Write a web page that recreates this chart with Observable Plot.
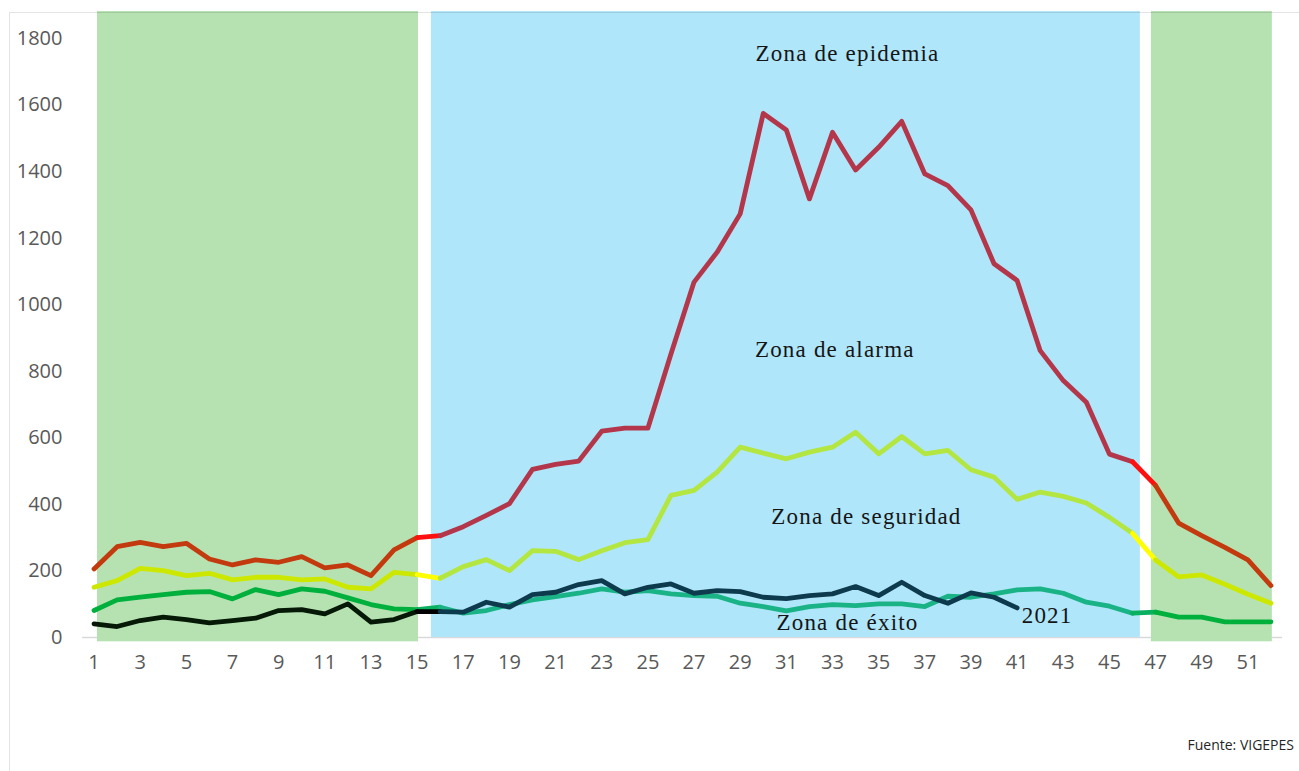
<!DOCTYPE html>
<html><head><meta charset="utf-8">
<script src="https://cdn.jsdelivr.net/npm/d3@7"></script>
<script src="https://cdn.jsdelivr.net/npm/@observablehq/plot@0.6"></script>
<style>
body{margin:0;background:#fff;}
#wrap{position:relative;width:1299px;height:771px;overflow:hidden;}
#chart{position:absolute;left:0;top:0;}
#frame{position:absolute;left:9px;top:12px;width:1400px;height:900px;border:1.5px solid rgba(0,0,0,0.11);box-sizing:border-box;pointer-events:none;}
#src{position:absolute;right:5px;top:735px;font-family:"Open Sans";font-size:14px;color:#262626;}
</style></head>
<body><div id="wrap"><div id="chart"></div><div id="frame"></div><div id="src">Fuente: VIGEPES</div></div>
<script>
const weeks = [1,2,3,4,5,6,7,8,9,10,11,12,13,14,15,16,17,18,19,20,21,22,23,24,25,26,27,28,29,30,31,32,33,34,35,36,37,38,39,40,41,42,43,44,45,46,47,48,49,50,51,52];
const epidemia = [206,273,286,273,283,236,218,233,226,243,209,218,186,263,300,306,333,367,402,505,520,530,620,629,629,852,1068,1158,1273,1575,1525,1318,1518,1405,1473,1551,1393,1358,1285,1123,1073,862,772,707,551,528,457,344,306,271,233,156];
const alarma = [151,171,208,201,186,193,173,181,181,173,176,151,146,196,189,178,213,234,201,261,259,234,261,285,294,427,442,497,572,554,537,557,572,617,552,604,552,562,504,482,415,437,424,404,361,313,233,182,188,160,130,103];
const seguridad = [81,113,121,129,136,138,116,144,129,146,139,119,99,86,84,91,73,81,99,113,123,133,146,136,141,131,126,124,103,93,80,93,99,96,101,101,93,124,121,131,143,146,133,106,94,73,76,61,61,47,47,47];
const y2021 = [41,33,51,61,54,44,51,58,81,84,71,101,46,54,78,78,76,106,91,129,136,159,171,131,151,161,133,141,138,121,117,126,131,153,126,166,126,103,134,121,89];

const xTicks = [1,3,5,7,9,11,13,15,17,19,21,23,25,27,29,31,33,35,37,39,41,43,45,47,49,51];
const yTicks = [0,200,400,600,800,1000,1200,1400,1600,1800];

// background zones (in week units / value units)
const bandStart = [1.15, 15.62, 46.82];
const bandEnd = [15.06, 46.34, 52.06];
const bandBottom = [-13, 0, -13];
const bandTop = [1881, 1881, 1881];
const bandColor = ["#b6e2b2", "#b0e6f9", "#b6e2b2"];

// annotations
const labels = ["Zona de epidemia", "Zona de alarma", "Zona de seguridad", "Zona de éxito", "2021"];
const labelWeek = [33.65, 33.1, 34.47, 33.65, 42.3];
const labelValue = [1755, 865, 364, 45, 66];

// colours per series: [green zone, boundary, blue zone]
const colEpidemia = ["#c23a0e", "#ff1010", "#b3364a"];
const colAlarma = ["#cde800", "#ffff00", "#b4e641"];
const colSeguridad = ["#00b03c", "#08b060", "#19b386"];
const col2021 = ["#061806", "#000000", "#0e3a4e"];

const parts = [[1,15,0],[15,16,1],[16,46,2],[46,47,1],[47,52,0]];
function segs(name, vals, cols) {
  const rows = [];
  parts.forEach(([a,b,c], pi) => {
    const g = [];
    for (let w = a; w <= b && w <= vals.length; w++) g.push({week: weeks[w-1], value: vals[w-1], color: cols[c], key: name + pi});
    if (g.length >= 2) rows.push(...g);
  });
  return rows;
}

const lineOpts = {x: "week", y: "value", z: "key", stroke: "color", strokeWidth: 4.8, strokeLinejoin: "round", strokeLinecap: "round"};
const bandIdx = [0, 1, 2];

const plot = Plot.plot({
  width: 1299,
  height: 771,
  marginLeft: 82,
  marginRight: 17,
  marginTop: 38,
  marginBottom: 134,
  style: {fontFamily: "Open Sans", color: "#595959", background: "transparent"},
  x: {type: "linear", domain: [0.5, 52.5]},
  y: {domain: [0, 1800]},
  color: {type: "identity"},
  marks: [
    Plot.ruleY([0], {stroke: "#d9d9d9", strokeWidth: 1.5}),
    Plot.rect(bandIdx, {x1: i => bandStart[i], x2: i => bandEnd[i], y1: i => bandBottom[i], y2: i => bandTop[i], fill: i => bandColor[i]}),
    Plot.axisY({ticks: yTicks, tickSize: 0, tickPadding: 20, label: null, fontSize: 20, tickFormat: d => String(d)}),
    Plot.axisX({ticks: xTicks, tickSize: 0, tickPadding: 17, label: null, fontSize: 20, tickFormat: d => String(d)}),
    Plot.line(segs("s", seguridad, colSeguridad), lineOpts),
    Plot.line(segs("a", alarma, colAlarma), lineOpts),
    Plot.line(segs("e", epidemia, colEpidemia), lineOpts),
    Plot.line(segs("k", y2021, col2021), lineOpts),
    Plot.text(labels, {x: (d, i) => labelWeek[i], y: (d, i) => labelValue[i], text: d => d, fontFamily: "Liberation Serif", fontSize: 23, fill: "#151515", textAnchor: "middle", lineAnchor: "middle"})
  ]
});
document.getElementById("chart").appendChild(plot);
d3.select(plot).selectAll("g[aria-label='y-axis tick label'], g[aria-label='x-axis tick label']").style("font-size", "20px");
d3.select(plot).selectAll("g[font-family='Liberation Serif'] text").style("letter-spacing", "1.2px");
</script>
</body></html>
